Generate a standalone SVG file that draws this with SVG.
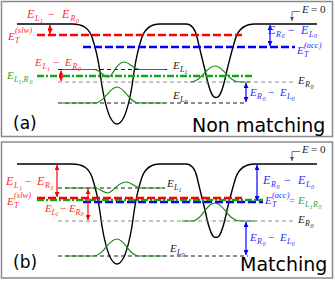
<svg xmlns="http://www.w3.org/2000/svg" width="335" height="281" viewBox="0 0 335 281">
<style>
.frame{fill:none;stroke:#8a8a8a;stroke-width:1.5}
.pot{fill:none;stroke:#000;stroke-width:1.4}
.wf{fill:none;stroke:#1b8a1b;stroke-width:1.2}
.rd{fill:none;stroke:#ff0000;stroke-width:2.4;stroke-dasharray:8 3}
.bd{fill:none;stroke:#0000ff;stroke-width:2.4;stroke-dasharray:8 3}
.gd{fill:none;stroke:#13a813;stroke-width:2.4;stroke-dasharray:7 2 2 2}
.kd{fill:none;stroke:#000;stroke-width:0.9;stroke-dasharray:4 3}
.yd{fill:none;stroke:#808080;stroke-width:0.9;stroke-dasharray:4 3}
.ra{fill:none;stroke:#ff0000;stroke-width:1.2;marker-start:url(#mr);marker-end:url(#mr)}
.ba{fill:none;stroke:#0000ff;stroke-width:1.2;marker-start:url(#mb);marker-end:url(#mb)}
.ka{fill:none;stroke:#555;stroke-width:0.8;marker-end:url(#mk)}
.m{font-family:"Liberation Serif","DejaVu Serif",serif;font-style:italic;font-size:11px}
.s{font-size:8px}
.ss{font-size:6px}
.sp{font-size:8.5px}
.up{font-style:normal}
.red{fill:#ff2a2a}
.blue{fill:#2a2aff}
.grn{fill:#2ea82e}
.blk{fill:#222}
.big{font-family:"DejaVu Sans","Liberation Sans",sans-serif;fill:#000}
</style>
<defs>
<marker id="mr" viewBox="0 0 6 6" refX="6" refY="3" markerWidth="5" markerHeight="5" markerUnits="userSpaceOnUse" orient="auto-start-reverse"><path d="M0,0 L6,3 L0,6 z" fill="#ff0000"/></marker>
<marker id="mb" viewBox="0 0 6 6" refX="6" refY="3" markerWidth="5" markerHeight="5" markerUnits="userSpaceOnUse" orient="auto-start-reverse"><path d="M0,0 L6,3 L0,6 z" fill="#0000ff"/></marker>
<marker id="mk" viewBox="0 0 6 6" refX="6" refY="3" markerWidth="4" markerHeight="4" markerUnits="userSpaceOnUse" orient="auto"><path d="M0,0 L6,3 L0,6 z" fill="#555"/></marker>
<path id="potential" d="M17,24 H72 C84,24 89,29 92,37 C95,46 98,58 100,72 C102,88 106,108 110,117 C113,123 115,124 117,124 C119,124 121,123 124,117 C128,108 132,88 134,72 C136,58 139,46 142,37 C145,29 150,24 160,24 H186 C192,24 195,29 197,37 C199,46 202,58 205,70 C207,80 210,92 213,96 C214.5,98 217.5,98 219,96 C222,92 225,80 227,70 C230,58 233,46 236,37 C239,29 244,24 255,24 H317"/>
</defs>
<rect width="335" height="281" fill="#fff"/>

<g id="panel-a">
<rect class="frame" x="1.5" y="1.5" width="331" height="135"/>
<g id="a-potential"><use href="#potential" class="pot"/></g>
<g id="a-levels">
<path class="kd" d="M58,69.5 H170"/>
<path class="yd" d="M58,82 H295"/>
<path class="kd" d="M58,103 H245"/>
</g>
<g id="a-wavefunctions">
<path class="wf" d="M62,69.5 H94 C100,69.5 103,77 108,77 C113,77 116,62 124,62 C130,62 133,69.5 140,69.5 H165"/>
<path class="wf" d="M190,82 C202,82 206,66 215,66 C224,66 228,82 240,82 H250"/>
<path class="wf" d="M62,103 H94 C105,103 109,87 117,87 C125,87 129,103 139,103 H165"/>
</g>
<g id="a-connectors">
<path class="bd" d="M83,47 H295"/>
<path class="gd" d="M37,76 H252"/>
<path class="rd" d="M37,35 H242"/>
<path class="ra" d="M50,25 V34"/>
<path class="ra" d="M61,70.5 V81"/>
<path class="ba" d="M270,25 V46"/>
<path class="ba" d="M246,83 V102"/>
<path class="ka" d="M300,11.5 H292 V21"/>
</g>
<g id="a-labels">
<text class="m red"><tspan x="27" y="18" font-size="12">E</tspan><tspan class="s" x="35" y="21">L</tspan><tspan class="ss" x="40" y="22.5">1</tspan><tspan class="up" x="48" y="18" font-size="12">−</tspan><tspan x="62" y="18" font-size="12">E</tspan><tspan class="s" x="70.5" y="21">R</tspan><tspan class="ss" x="76" y="22.5">0</tspan></text>
<text class="m red"><tspan x="8" y="40">E</tspan><tspan class="s" x="15" y="43">T</tspan><tspan class="sp" x="15" y="33">(slw)</tspan></text>
<text class="m red"><tspan x="35" y="66">E</tspan><tspan class="s" x="42.5" y="69">L</tspan><tspan class="ss" x="47" y="70.5">1</tspan><tspan class="up" x="53" y="66">−</tspan><tspan x="65" y="66">E</tspan><tspan class="s" x="72.5" y="69">R</tspan><tspan class="ss" x="78" y="70.5">0</tspan></text>
<text class="m grn"><tspan x="7" y="79">E</tspan><tspan class="s" x="14" y="82">L</tspan><tspan class="ss" x="18.5" y="83.5">1</tspan><tspan class="s" x="21.5" y="82">,R</tspan><tspan class="ss" x="29.5" y="83.5">0</tspan></text>
<text class="m blue"><tspan x="268" y="34" font-size="12">E</tspan><tspan class="s" x="276" y="36.5">R</tspan><tspan class="ss" x="281.5" y="37.5">0</tspan><tspan class="up" x="288" y="34" font-size="12">−</tspan><tspan x="301" y="34" font-size="12">E</tspan><tspan class="s" x="309" y="36.5">L</tspan><tspan class="ss" x="314" y="37.5">0</tspan></text>
<text class="m blue"><tspan x="297" y="54">E</tspan><tspan class="s" x="304" y="57">T</tspan><tspan class="sp" x="304" y="48">(acc)</tspan></text>
<text class="m blk"><tspan x="302" y="13">E</tspan><tspan class="up" x="311" y="13">= 0</tspan></text>
<text class="m blk"><tspan x="173" y="69">E</tspan><tspan class="s" x="180" y="72">L</tspan><tspan class="ss" x="184.5" y="73.5">1</tspan></text>
<text class="m blk"><tspan x="298" y="84">E</tspan><tspan class="s" x="305" y="87">R</tspan><tspan class="ss" x="310.5" y="88.5">0</tspan></text>
<text class="m blk"><tspan x="173" y="99">E</tspan><tspan class="s" x="180" y="102">L</tspan><tspan class="ss" x="184.5" y="103.5">0</tspan></text>
<text class="m blue"><tspan x="250" y="96">E</tspan><tspan class="s" x="257" y="99">R</tspan><tspan class="ss" x="262.5" y="100.5">0</tspan><tspan class="up" x="268" y="96">−</tspan><tspan x="280" y="96">E</tspan><tspan class="s" x="287" y="99">L</tspan><tspan class="ss" x="291.5" y="100.5">0</tspan></text>
<text class="big" x="13" y="129" font-size="17">(a)</text>
<text class="big" x="192" y="132" font-size="19">Non matching</text>
</g>
</g>

<g id="panel-b">
<rect class="frame" x="1.5" y="142" width="331" height="136"/>
<g id="b-potential"><use href="#potential" class="pot" transform="translate(0,140)"/></g>
<g id="b-levels">
<path class="kd" d="M58,188 H165"/>
<path class="yd" d="M58,221 H295"/>
<path class="kd" d="M58,256 H248"/>
</g>
<g id="b-wavefunctions">
<path class="wf" d="M65,188 H95 C100,188 103,193 108,193 C113,193 117,182 126,182 C132,182 135,188 141,188 H165"/>
<path class="wf" d="M182,221 H192 C202,221 206,203 215,203 C224,203 228,221 240,221 H255"/>
<path class="wf" d="M65,256 H93 C104,256 108,239 117,239 C125,239 129,256 139,256 H165"/>
</g>
<g id="b-connectors">
<path class="bd" d="M83,202 H263"/>
<path class="gd" d="M37,200 H263"/>
<path class="rd" d="M37,198 H242"/>
<path class="ra" d="M57,165 V197"/>
<path class="ra" d="M88,189 V220"/>
<path class="ba" d="M257,165 V201"/>
<path class="ba" d="M246,222 V255"/>
<path class="ka" d="M300,151.5 H292 V161"/>
</g>
<g id="b-labels">
<text class="m red"><tspan x="6" y="185" font-size="12">E</tspan><tspan class="s" x="14" y="188">L</tspan><tspan class="ss" x="19" y="189.5">1</tspan><tspan class="up" x="25" y="185" font-size="12">−</tspan><tspan x="37" y="185" font-size="12">E</tspan><tspan class="s" x="45" y="188">R</tspan><tspan class="ss" x="50.5" y="189.5">0</tspan></text>
<text class="m red"><tspan x="7" y="205">E</tspan><tspan class="s" x="14" y="208">T</tspan><tspan class="sp" x="14" y="198">(slw)</tspan></text>
<text class="m red" font-size="10"><tspan x="45" y="212">E</tspan><tspan class="s" x="51.5" y="214.5" font-size="7">L</tspan><tspan class="ss" x="55.5" y="216" font-size="5">1</tspan><tspan class="up" x="60" y="212">−</tspan><tspan x="69" y="212">E</tspan><tspan class="s" x="75.5" y="214.5" font-size="7">R</tspan><tspan class="ss" x="80.5" y="216" font-size="5">0</tspan></text>
<text class="m blue"><tspan x="263" y="184" font-size="12">E</tspan><tspan class="s" x="271" y="187">R</tspan><tspan class="ss" x="276.5" y="188.5">0</tspan><tspan class="up" x="284" y="184" font-size="12">−</tspan><tspan x="298" y="184" font-size="12">E</tspan><tspan class="s" x="306" y="187">L</tspan><tspan class="ss" x="311" y="188.5">0</tspan></text>
<text class="m"><tspan class="blue" x="265" y="204">E</tspan><tspan class="s blue" x="272" y="207">T</tspan><tspan class="sp blue" x="272" y="197.5">(acc)</tspan><tspan class="up grn" x="289" y="204">=</tspan><tspan class="grn" x="298" y="204">E</tspan><tspan class="s grn" x="305" y="207">L</tspan><tspan class="ss grn" x="309.5" y="208.5">1</tspan><tspan class="s grn" x="313" y="207">R</tspan><tspan class="ss grn" x="318.5" y="208.5">0</tspan></text>
<text class="m blk"><tspan x="302" y="153">E</tspan><tspan class="up" x="311" y="153">= 0</tspan></text>
<text class="m blk"><tspan x="167" y="187">E</tspan><tspan class="s" x="174" y="190">L</tspan><tspan class="ss" x="178.5" y="191.5">1</tspan></text>
<text class="m blk"><tspan x="298" y="223">E</tspan><tspan class="s" x="305" y="226">R</tspan><tspan class="ss" x="310.5" y="227.5">0</tspan></text>
<text class="m blk"><tspan x="170" y="252">E</tspan><tspan class="s" x="177" y="255">L</tspan><tspan class="ss" x="181.5" y="256.5">0</tspan></text>
<text class="m blue"><tspan x="250" y="241">E</tspan><tspan class="s" x="257" y="244">R</tspan><tspan class="ss" x="262.5" y="245.5">0</tspan><tspan class="up" x="268" y="241">−</tspan><tspan x="280" y="241">E</tspan><tspan class="s" x="287" y="244">L</tspan><tspan class="ss" x="291.5" y="245.5">0</tspan></text>
<text class="big" x="13" y="268" font-size="17">(b)</text>
<text class="big" x="240" y="271" font-size="19">Matching</text>
</g>
</g>
</svg>
